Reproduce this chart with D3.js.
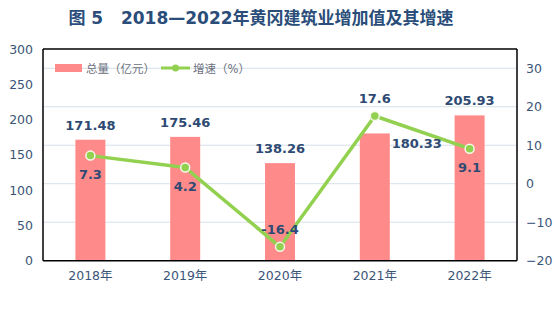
<!DOCTYPE html>
<html><head><meta charset="utf-8">
<script src="https://cdn.jsdelivr.net/npm/d3@7"></script>
<style>
body{margin:0;background:#fff;}
text{font-family:"DejaVu Sans","Noto Sans CJK SC",sans-serif;}
</style></head>
<body><svg id="c" width="554" height="324"></svg>
<script>
const categories = ["2018年","2019年","2020年","2021年","2022年"];
const totals = [171.48, 175.46, 138.26, 180.33, 205.93];
const growth = [7.3, 4.2, -16.4, 17.6, 9.1];
const leftTicks = [0,50,100,150,200,250,300];
const rightTicks = [-20,-10,0,10,20,30];
const growthLabelAbove = [false,false,true,true,false];
const totalLabelSide = [false,false,false,true,false];

const svg = d3.select("#c");
const L=43, R=517, T=49, B=260.7;
const labelColor="#2e4a72", axisColor="#3b5578";

svg.append("text").attr("x",261).attr("y",24).attr("text-anchor","middle")
  .attr("font-size",17).attr("font-weight","bold").attr("fill","#2a4d7a")
  .attr("xml:space","preserve")
  .text("图 5   2018—2022年黄冈建筑业增加值及其增速");

const x = d3.scaleBand().domain(categories).range([L,R]);
const yL = d3.scaleLinear().domain([0,300]).range([B,T]);
const yR = d3.scaleLinear().domain([-20,35]).range([B,T]);

// gridlines (right axis)
svg.append("g").selectAll("line").data(rightTicks.filter(d=>d>-20)).join("line")
  .attr("x1",L).attr("x2",R).attr("y1",d=>yR(d)).attr("y2",d=>yR(d))
  .attr("stroke","#d6e0ea").attr("stroke-width",1);

// bars
const bw=30;
svg.append("g").selectAll("rect").data(totals).join("rect")
  .attr("x",(d,i)=>x(categories[i])+x.bandwidth()/2-bw/2)
  .attr("width",bw).attr("y",d=>yL(d)).attr("height",d=>B-yL(d))
  .attr("fill","#ff8a8a");

// frame
svg.append("line").attr("x1",L).attr("x2",R).attr("y1",T).attr("y2",T).attr("stroke","#000").attr("stroke-width",1.5);
svg.append("line").attr("x1",L).attr("x2",R).attr("y1",B).attr("y2",B).attr("stroke","#000").attr("stroke-width",1.5);
svg.append("line").attr("x1",L).attr("x2",L).attr("y1",T).attr("y2",B).attr("stroke","#000").attr("stroke-width",1.5);
svg.append("line").attr("x1",R).attr("x2",R).attr("y1",T).attr("y2",B).attr("stroke","#000").attr("stroke-width",1.5);

// axes
const gl = svg.append("g").attr("transform",`translate(${L},0)`)
  .call(d3.axisLeft(yL).tickValues(leftTicks).tickSize(0).tickPadding(10));
const gr = svg.append("g").attr("transform",`translate(${R},0)`)
  .call(d3.axisRight(yR).tickValues(rightTicks).tickSize(0).tickPadding(9));
const gx = svg.append("g").attr("transform",`translate(0,${B})`)
  .call(d3.axisBottom(x).tickSize(0).tickPadding(10));
[gl,gr,gx].forEach(g=>{
  g.select(".domain").remove();
  g.selectAll("text").attr("font-size",12.5).attr("fill",axisColor)
   .attr("font-family",'"DejaVu Sans","Noto Sans CJK SC",sans-serif');
});

// line
const cx = i=>x(categories[i])+x.bandwidth()/2;
const line = d3.line().x((d,i)=>cx(i)).y(d=>yR(d));
svg.append("path").datum(growth).attr("d",line).attr("fill","none")
  .attr("stroke","#92d050").attr("stroke-width",3.5).attr("stroke-linejoin","round");
svg.append("g").selectAll("circle").data(growth).join("circle")
  .attr("cx",(d,i)=>cx(i)).attr("cy",d=>yR(d)).attr("r",4.5)
  .attr("fill","#92d050").attr("stroke","#f4f8e8").attr("stroke-width",1.5);

// bar labels
svg.append("g").selectAll("text").data(totals).join("text")
  .attr("x",(d,i)=>totalLabelSide[i]? cx(i)+42 : cx(i))
  .attr("y",(d,i)=>totalLabelSide[i]? yL(d)+15 : yL(d)-10)
  .attr("text-anchor","middle").attr("font-size",13).attr("font-weight","bold")
  .attr("fill",labelColor).text(d=>d.toFixed(2));

// growth labels
svg.append("g").selectAll("text").data(growth).join("text")
  .attr("x",(d,i)=>cx(i)).attr("y",(d,i)=>growthLabelAbove[i]? yR(d)-13 : yR(d)+23)
  .attr("text-anchor","middle").attr("font-size",13).attr("font-weight","bold")
  .attr("fill",labelColor).text(d=>d);

// legend
const lg = svg.append("g");
lg.append("rect").attr("x",55).attr("y",64).attr("width",27).attr("height",8).attr("fill","#ff8a8a");
lg.append("text").attr("x",86).attr("y",72.5).attr("font-size",11.5).attr("fill","#6b7080").text("总量（亿元）");
lg.append("line").attr("x1",161).attr("x2",190).attr("y1",68).attr("y2",68).attr("stroke","#92d050").attr("stroke-width",3);
lg.append("circle").attr("cx",175.5).attr("cy",68).attr("r",3.5).attr("fill","#92d050");
lg.append("text").attr("x",193).attr("y",72.5).attr("font-size",11.5).attr("fill","#6b7080").text("增速（%）");
</script></body></html>
